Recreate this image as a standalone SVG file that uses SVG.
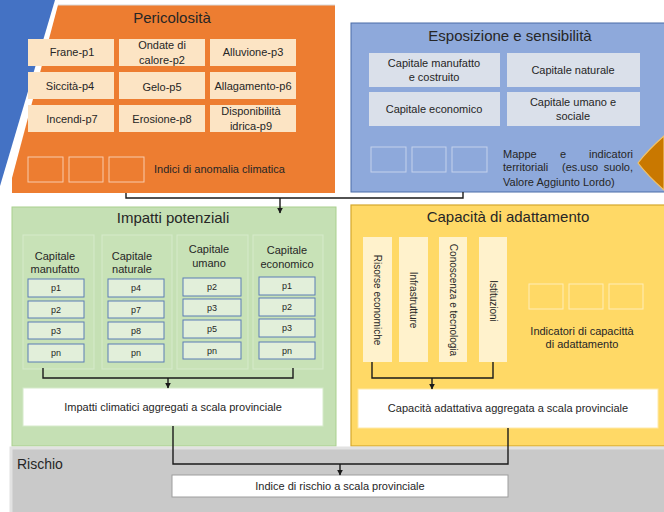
<svg xmlns="http://www.w3.org/2000/svg" width="664" height="512" viewBox="0 0 664 512">
<defs>
<marker id="arr" viewBox="0 0 10 10" refX="9" refY="5" markerWidth="6" markerHeight="6" orient="auto" markerUnits="userSpaceOnUse">
<path d="M0,0 L10,5 L0,10 z" fill="#1a1a1a"/>
</marker>
<style>
text{font-family:"Liberation Sans",Arial,sans-serif;fill:#262626}
.t{font-size:11px;text-anchor:middle}
.title{font-size:15px;text-anchor:middle}
.p{font-size:9px;text-anchor:middle}
.hz{fill:#FCE4C4}
.ex{fill:#DAE0EA}
.sq-o{fill:none;stroke:#F8CBAD;stroke-width:1}
.sq-b{fill:none;stroke:#C4D2EC;stroke-width:1}
.sq-y{fill:none;stroke:#FFEDB8;stroke-width:1}
.col{fill:#C8E2B7;stroke:#D6EACA;stroke-width:1}
.pb{fill:#E2EFDA;stroke:#5B7DB5;stroke-width:1}
.vb{fill:#FFF2CC}
.wb{fill:#ffffff}
.ln{fill:none;stroke:#1a1a1a;stroke-width:1.4}
</style>
</defs>
<rect width="664" height="512" fill="#ffffff"/>
<polygon points="0,0 55,0 0,186" fill="#4472C4"/>

<g id="pericolosita">
<polygon points="58,5 335,5 335,193 12,193 12,178" fill="#ED7D31"/>
<line x1="58" y1="5" x2="335" y2="5" stroke="#D9D9D9" stroke-width="1"/>
<text class="title" x="172" y="23" font-size="14">Pericolosità</text>
<rect class="hz" x="28" y="39" width="86" height="27"/>
<rect class="hz" x="119" y="39" width="86" height="27"/>
<rect class="hz" x="210" y="39" width="86" height="27"/>
<rect class="hz" x="28" y="72" width="86" height="27"/>
<rect class="hz" x="119" y="72" width="86" height="27"/>
<rect class="hz" x="210" y="72" width="86" height="27"/>
<rect class="hz" x="28" y="105" width="86" height="27"/>
<rect class="hz" x="119" y="105" width="86" height="27"/>
<rect class="hz" x="210" y="105" width="86" height="27"/>
<text class="t" x="72" y="56">Frane-p1</text>
<text class="t" x="162" y="49">Ondate di</text>
<text class="t" x="162" y="64">calore-p2</text>
<text class="t" x="253" y="56">Alluvione-p3</text>
<text class="t" x="70" y="90">Siccità-p4</text>
<text class="t" x="162" y="91">Gelo-p5</text>
<text class="t" x="253" y="90">Allagamento-p6</text>
<text class="t" x="72" y="123">Incendi-p7</text>
<text class="t" x="162" y="123">Erosione-p8</text>
<text class="t" x="251" y="115">Disponibilità</text>
<text class="t" x="251" y="130">idrica-p9</text>
<rect class="sq-o" x="28" y="157" width="35" height="25"/>
<rect class="sq-o" x="69" y="157" width="34" height="25"/>
<rect class="sq-o" x="109" y="157" width="35" height="25"/>
<text x="154" y="173" font-size="11">Indici di anomalia climatica</text>
</g>

<g id="esposizione">
<rect x="351" y="23" width="320" height="169" fill="#8EA9DB" stroke="#4A6CA8" stroke-width="1"/>
<text class="title" x="510" y="41">Esposizione e sensibilità</text>
<rect class="ex" x="369" y="53" width="131" height="34"/>
<rect class="ex" x="507" y="53" width="133" height="34"/>
<rect class="ex" x="369" y="92" width="131" height="34"/>
<rect class="ex" x="507" y="92" width="133" height="34"/>
<text class="t" x="434" y="67">Capitale manufatto</text>
<text class="t" x="434" y="81">e costruito</text>
<text class="t" x="573" y="74">Capitale naturale</text>
<text class="t" x="434" y="113">Capitale economico</text>
<text class="t" x="573" y="106">Capitale umano e</text>
<text class="t" x="573" y="120">sociale</text>
<rect class="sq-b" x="371" y="147" width="35" height="25"/>
<rect class="sq-b" x="412" y="147" width="34" height="25"/>
<rect class="sq-b" x="452" y="147" width="35" height="25"/>
<text x="503" y="158" font-size="11">Mappe</text>
<text x="563" y="158" font-size="11" text-anchor="middle">e</text>
<text x="633" y="158" font-size="11" text-anchor="end">indicatori</text>
<text x="503" y="171" font-size="11">territoriali</text>
<text x="562" y="171" font-size="11">(es.uso</text>
<text x="633" y="171" font-size="11" text-anchor="end">suolo,</text>
<text x="503" y="186" font-size="11">Valore Aggiunto Lordo)</text>
<path d="M664,136 Q648,150 638,163 Q648,176 664,190 z" fill="#C97800" stroke="#F2C46A" stroke-width="1.2"/>
</g>

<g id="impatti">
<rect x="12" y="207" width="324" height="239" fill="#C5E0B4" stroke="#A9D08E" stroke-width="1"/>
<text class="title" x="173" y="223">Impatti potenziali</text>
<rect class="col" x="23" y="235" width="71" height="134"/>
<rect class="col" x="102" y="235" width="70" height="134"/>
<rect class="col" x="177" y="235" width="71" height="134"/>
<rect class="col" x="253" y="235" width="70" height="134"/>
<text class="t" x="55" y="260">Capitale</text>
<text class="t" x="55" y="273">manufatto</text>
<text class="t" x="132" y="260">Capitale</text>
<text class="t" x="132" y="273">naturale</text>
<text class="t" x="209" y="253">Capitale</text>
<text class="t" x="209" y="267">umano</text>
<text class="t" x="287" y="254">Capitale</text>
<text class="t" x="287" y="268">economico</text>
<rect class="pb" x="28" y="279" width="56" height="18"/>
<rect class="pb" x="28" y="301" width="56" height="17"/>
<rect class="pb" x="28" y="322" width="56" height="17"/>
<rect class="pb" x="28" y="344" width="56" height="18"/>
<text class="p" x="56" y="291">p1</text>
<text class="p" x="56" y="313">p2</text>
<text class="p" x="56" y="334">p3</text>
<text class="p" x="56" y="356">pn</text>
<rect class="pb" x="108" y="279" width="56" height="18"/>
<rect class="pb" x="108" y="301" width="56" height="17"/>
<rect class="pb" x="108" y="322" width="56" height="17"/>
<rect class="pb" x="108" y="344" width="56" height="18"/>
<text class="p" x="136" y="291">p4</text>
<text class="p" x="136" y="313">p7</text>
<text class="p" x="136" y="334">p8</text>
<text class="p" x="136" y="356">pn</text>
<rect class="pb" x="183" y="278" width="58" height="18"/>
<rect class="pb" x="183" y="299" width="58" height="17"/>
<rect class="pb" x="183" y="320" width="58" height="18"/>
<rect class="pb" x="183" y="342" width="58" height="17"/>
<text class="p" x="212" y="290">p2</text>
<text class="p" x="212" y="311">p3</text>
<text class="p" x="212" y="332">p5</text>
<text class="p" x="212" y="354">pn</text>
<rect class="pb" x="259" y="277" width="56" height="18"/>
<rect class="pb" x="259" y="298" width="56" height="18"/>
<rect class="pb" x="259" y="319" width="56" height="18"/>
<rect class="pb" x="259" y="342" width="56" height="17"/>
<text class="p" x="287" y="289">p1</text>
<text class="p" x="287" y="310">p2</text>
<text class="p" x="287" y="331">p3</text>
<text class="p" x="287" y="354">pn</text>
</g>

<g id="impatti-aggregati">
<rect class="wb" x="23" y="388" width="300" height="38" stroke="#D6EACA" stroke-width="1"/>
<text class="t" x="173" y="411">Impatti climatici aggregati a scala provinciale</text>
</g>

<g id="capacita">
<rect x="351" y="205" width="320" height="241" fill="#FFD966" stroke="#D4A72C" stroke-width="1.2"/>
<text class="title" x="508" y="222">Capacità di adattamento</text>
<rect class="vb" x="363" y="237" width="29" height="125"/>
<rect class="vb" x="399" y="237" width="29" height="125"/>
<rect class="vb" x="439" y="237" width="28" height="125"/>
<rect class="vb" x="479" y="237" width="28" height="125"/>
<text font-size="10" text-anchor="middle" transform="translate(374,300) rotate(90)">Risorse economiche</text>
<text font-size="10" text-anchor="middle" transform="translate(410,300) rotate(90)">Infrastrutture</text>
<text font-size="10" text-anchor="middle" transform="translate(450,300) rotate(90)">Conoscenza e tecnologia</text>
<text font-size="10" text-anchor="middle" transform="translate(490,301) rotate(90)">Istituzioni</text>
<rect class="sq-y" x="529" y="284" width="34" height="25"/>
<rect class="sq-y" x="569" y="284" width="34" height="25"/>
<rect class="sq-y" x="609" y="284" width="34" height="25"/>
<text class="t" x="582" y="335">Indicatori di capacittà</text>
<text class="t" x="582" y="348">di adattamento</text>
</g>

<g id="capacita-aggregata">
<rect class="wb" x="358" y="389" width="300" height="39" stroke="#FFE9A8" stroke-width="1"/>
<text class="t" x="508" y="412">Capacità adattativa aggregata a scala provinciale</text>
</g>

<g id="rischio">
<rect x="11" y="448" width="660" height="70" fill="#C9C9C9" stroke="#E2E2E2" stroke-width="3"/>
<text x="17" y="469" font-size="14">Rischio</text>
</g>

<g id="indice-rischio">
<rect class="wb" x="172" y="475" width="336" height="22" stroke="#9E9E9E" stroke-width="1"/>
<text class="t" x="340" y="490">Indice di rischio a scala provinciale</text>
</g>

<g id="connectors">
<path class="ln" d="M126,193 V198 H463 V192"/>
<path class="ln" d="M280,198 V213" marker-end="url(#arr)"/>
<path class="ln" d="M43,368 V378 H293 V368"/>
<path class="ln" d="M168,378 V388" marker-end="url(#arr)"/>
<path class="ln" d="M372,362 V378 H493 V362"/>
<path class="ln" d="M432,378 V389" marker-end="url(#arr)"/>
<path class="ln" d="M173,426 V464 H508 V428"/>
<path class="ln" d="M340,464 V475" marker-end="url(#arr)"/>
</g>
</svg>
